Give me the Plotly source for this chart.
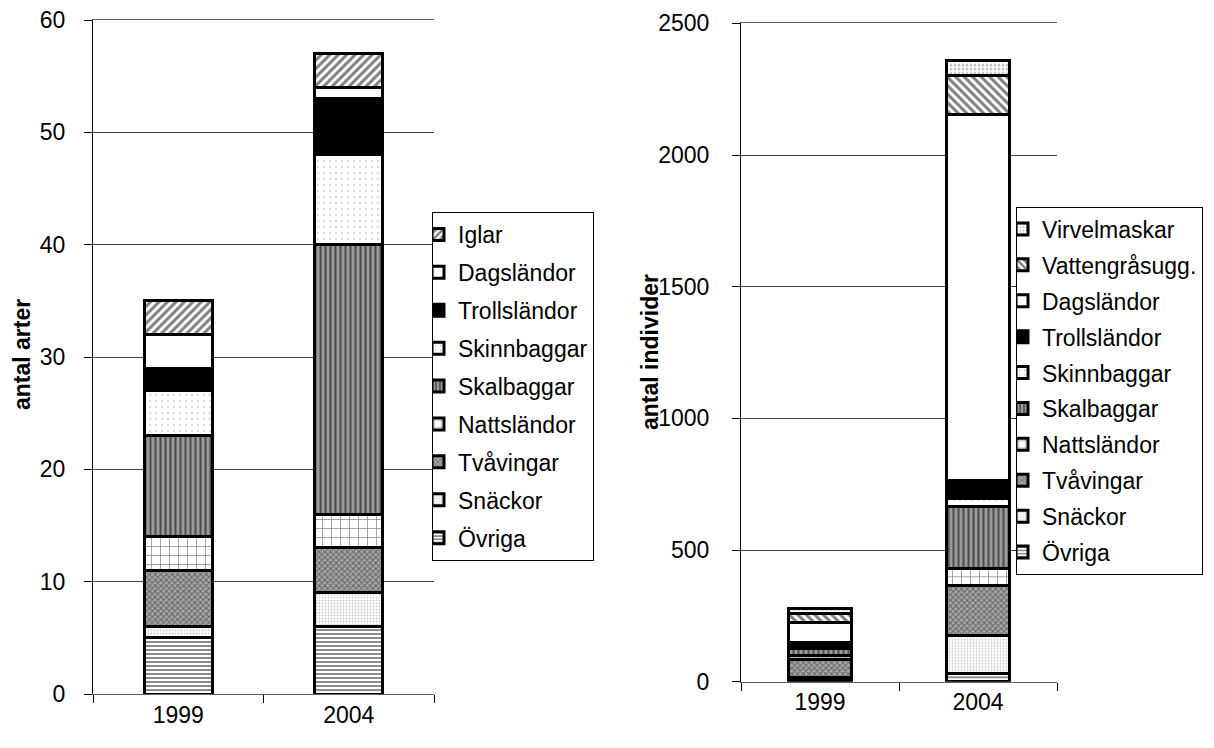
import plotly.graph_objects as go

years = ["1999", "2004"]

# Left chart: antal arter (number of species)
left_names = ["Övriga", "Snäckor", "Tvåvingar", "Nattsländor", "Skalbaggar",
              "Skinnbaggar", "Trollsländor", "Dagsländor", "Iglar"]
left_ovriga = [5, 6]
left_snackor = [1, 3]
left_tvavingar = [5, 4]
left_nattslandor = [3, 3]
left_skalbaggar = [9, 24]
left_skinnbaggar = [4, 8]
left_trollslandor = [2, 5]
left_dagslandor = [3, 1]
left_iglar = [3, 3]

# Right chart: antal individer (number of individuals)
right_names = ["Övriga", "Snäckor", "Tvåvingar", "Nattsländor", "Skalbaggar",
               "Skinnbaggar", "Trollsländor", "Dagsländor", "Vattengråsugg.", "Virvelmaskar"]
right_ovriga = [10, 30]
right_snackor = [5, 145]
right_tvavingar = [70, 190]
right_nattslandor = [15, 65]
right_skalbaggar = [25, 235]
right_skinnbaggar = [5, 30]
right_trollslandor = [20, 70]
right_dagslandor = [75, 1390]
right_vattengrasugg = [35, 145]
right_virvelmaskar = [20, 60]

left_values = [left_ovriga, left_snackor, left_tvavingar, left_nattslandor, left_skalbaggar,
               left_skinnbaggar, left_trollslandor, left_dagslandor, left_iglar]
right_values = [right_ovriga, right_snackor, right_tvavingar, right_nattslandor, right_skalbaggar,
                right_skinnbaggar, right_trollslandor, right_dagslandor, right_vattengrasugg,
                right_virvelmaskar]

STY = {
    "Övriga": dict(color="white", pattern=dict(shape="-", size=4, solidity=0.45, fgcolor="black", bgcolor="white", fillmode="overlay")),
    "Snäckor": dict(color="white", pattern=dict(shape=".", size=3, solidity=0.35, fgcolor="#9a9a9a", bgcolor="white", fillmode="overlay")),
    "Tvåvingar": dict(color="white", pattern=dict(shape="x", size=4, solidity=0.45, fgcolor="#222222", bgcolor="#a8a8a8", fillmode="overlay")),
    "Nattsländor": dict(color="white", pattern=dict(shape="+", size=9, solidity=0.15, fgcolor="black", bgcolor="white", fillmode="overlay")),
    "Skalbaggar": dict(color="white", pattern=dict(shape="|", size=5, solidity=0.4, fgcolor="black", bgcolor="#9a9a9a", fillmode="overlay")),
    "Skinnbaggar": dict(color="white", pattern=dict(shape=".", size=6, solidity=0.06, fgcolor="#555555", bgcolor="white", fillmode="overlay")),
    "Trollsländor": dict(color="black"),
    "Dagsländor": dict(color="white"),
    "Iglar": dict(color="white", pattern=dict(shape="/", size=6, solidity=0.5, fgcolor="black", bgcolor="white", fillmode="overlay")),
    "Vattengråsugg.": dict(color="white", pattern=dict(shape="\\", size=6, solidity=0.5, fgcolor="black", bgcolor="white", fillmode="overlay")),
    "Virvelmaskar": dict(color="white", pattern=dict(shape=".", size=4, solidity=0.35, fgcolor="#777777", bgcolor="white", fillmode="overlay")),
}

FONT = "Liberation Sans, Arial, sans-serif"
fig = go.Figure()

for i, (name, vals) in enumerate(zip(left_names, left_values)):
    fig.add_trace(go.Bar(
        x=years, y=vals, name=name, xaxis="x", yaxis="y",
        legend="legend", legendgroup="L" + name, legendrank=1000 - i,
        marker=dict(line=dict(color="black", width=3), **STY[name]),
        hoverinfo="skip"))

for i, (name, vals) in enumerate(zip(right_names, right_values)):
    fig.add_trace(go.Bar(
        x=years, y=vals, name=name, xaxis="x2", yaxis="y2",
        legend="legend2", legendgroup="R" + name, legendrank=1000 - i,
        marker=dict(line=dict(color="black", width=3), **STY[name]),
        hoverinfo="skip"))

# The page body has an 8px margin, so the figure is drawn 8px smaller and
# all reference pixel positions are shifted by OFF.
OFF = 8
W, H = 1214 - OFF, 748 - OFF


def px_x(a, b):
    return [(a - OFF) / W, (b - OFF) / W]


def px_y(top, bottom):
    return [(H - (bottom - OFF)) / H, (H - (top - OFF)) / H]


def fx(a):
    return (a - OFF) / W


def fy(a):
    return (H - (a - OFF)) / H


TICKFONT = dict(family=FONT, size=23, color="black")
LEGFONT = dict(family=FONT, size=23, color="black")

fig.update_layout(
    width=W, height=H, autosize=False,
    margin=dict(l=0, r=0, t=0, b=0, autoexpand=False),
    paper_bgcolor="white", plot_bgcolor="white",
    barmode="stack", bargap=0.6,
    font=dict(family=FONT, color="black"),
    xaxis=dict(domain=px_x(93, 434), anchor="y", type="category", automargin=False,
               ticks="outside", tickson="boundaries", ticklen=8, tickcolor="black",
               showgrid=False, linecolor="#606060", showline=True, mirror=True, tickfont=TICKFONT),
    yaxis=dict(domain=px_y(20, 694), anchor="x", range=[0, 60], tick0=0, dtick=10, automargin=False,
               ticks="outside", ticklen=8, tickcolor="black", ticklabeloverflow="allow",
               showgrid=True, gridcolor="#404040", gridwidth=1,
               showline=True, linecolor="black", linewidth=1,
               zeroline=False, ticklabelstandoff=14, tickfont=TICKFONT),
    xaxis2=dict(domain=px_x(741, 1057), anchor="y2", type="category", automargin=False,
                ticks="outside", tickson="boundaries", ticklen=8, tickcolor="black",
                showgrid=False, linecolor="#606060", showline=True, mirror=True, tickfont=TICKFONT),
    yaxis2=dict(domain=px_y(23.3, 681.8), anchor="x2", range=[0, 2500], tick0=0, dtick=500, automargin=False,
                ticks="outside", ticklen=8, tickcolor="black", ticklabeloverflow="allow",
                showgrid=True, gridcolor="#404040", gridwidth=1,
                showline=True, linecolor="black", linewidth=1,
                zeroline=False, ticklabelstandoff=18, tickfont=TICKFONT),
    legend=dict(x=fx(432), y=fy(212), xanchor="left", yanchor="top",
                bgcolor="white", bordercolor="black", borderwidth=1,
                font=LEGFONT, traceorder="grouped", tracegroupgap=5, itemwidth=30,
                indentation=-15),
    legend2=dict(x=fx(1016), y=fy(206.5), xanchor="left", yanchor="top",
                 bgcolor="white", bordercolor="black", borderwidth=1,
                 font=LEGFONT, traceorder="grouped", tracegroupgap=3, itemwidth=30,
                 indentation=-15),
    showlegend=True,
    annotations=[
        dict(text="<b>antal arter</b>", x=fx(22), y=fy(355), xanchor="center", yanchor="middle",
             xref="paper", yref="paper", textangle=-90, showarrow=False,
             font=dict(family=FONT, size=23, color="black")),
        dict(text="<b>antal individer</b>", x=fx(650), y=fy(352), xanchor="center", yanchor="middle",
             xref="paper", yref="paper", textangle=-90, showarrow=False,
             font=dict(family=FONT, size=23, color="black")),
    ],
)

fig.write_html("out.html")
